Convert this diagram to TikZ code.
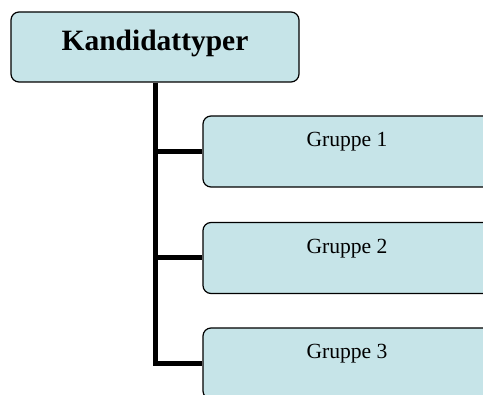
\documentclass[tikz,border=0pt]{standalone}
\usepackage{fontspec}
\setmainfont{Liberation Serif}
\definecolor{boxfill}{RGB}{198,228,232}
\tikzset{
  box/.style={draw=black,line width=1.2pt,fill=boxfill,rounded corners=8pt,inner sep=0pt,minimum width=288pt,align=center},
  headbox/.style={box,text height=39pt,text depth=31pt,font=\fontsize{29.5}{30}\selectfont\bfseries},
  groupbox/.style={box,text height=31pt,text depth=40pt,font=\fontsize{21.6}{22}\selectfont},
  trunk/.style={line width=5pt}
}
\begin{document}
\begin{tikzpicture}[x=1pt,y=-1pt]
		\useasboundingbox (0,0) rectangle (483,395);
		\clip (0,0) rectangle (483,395);
		% boxes
		\node[headbox] (typer) at (155,47) {Kandidattyper};
		\node[groupbox] (g1) at (347,151.5) {Gruppe 1};
		\node[groupbox] (g2) at (347,258) {Gruppe 2};
		\node[groupbox] (g3) at (347,363.5) {Gruppe 3};
		% connectors
		\draw[trunk] (typer.south) |- (g3.west);
		\draw[trunk] (typer.south |- g1.west) -- (g1.west);
		\draw[trunk] (typer.south |- g2.west) -- (g2.west);
\end{tikzpicture}
\end{document}
